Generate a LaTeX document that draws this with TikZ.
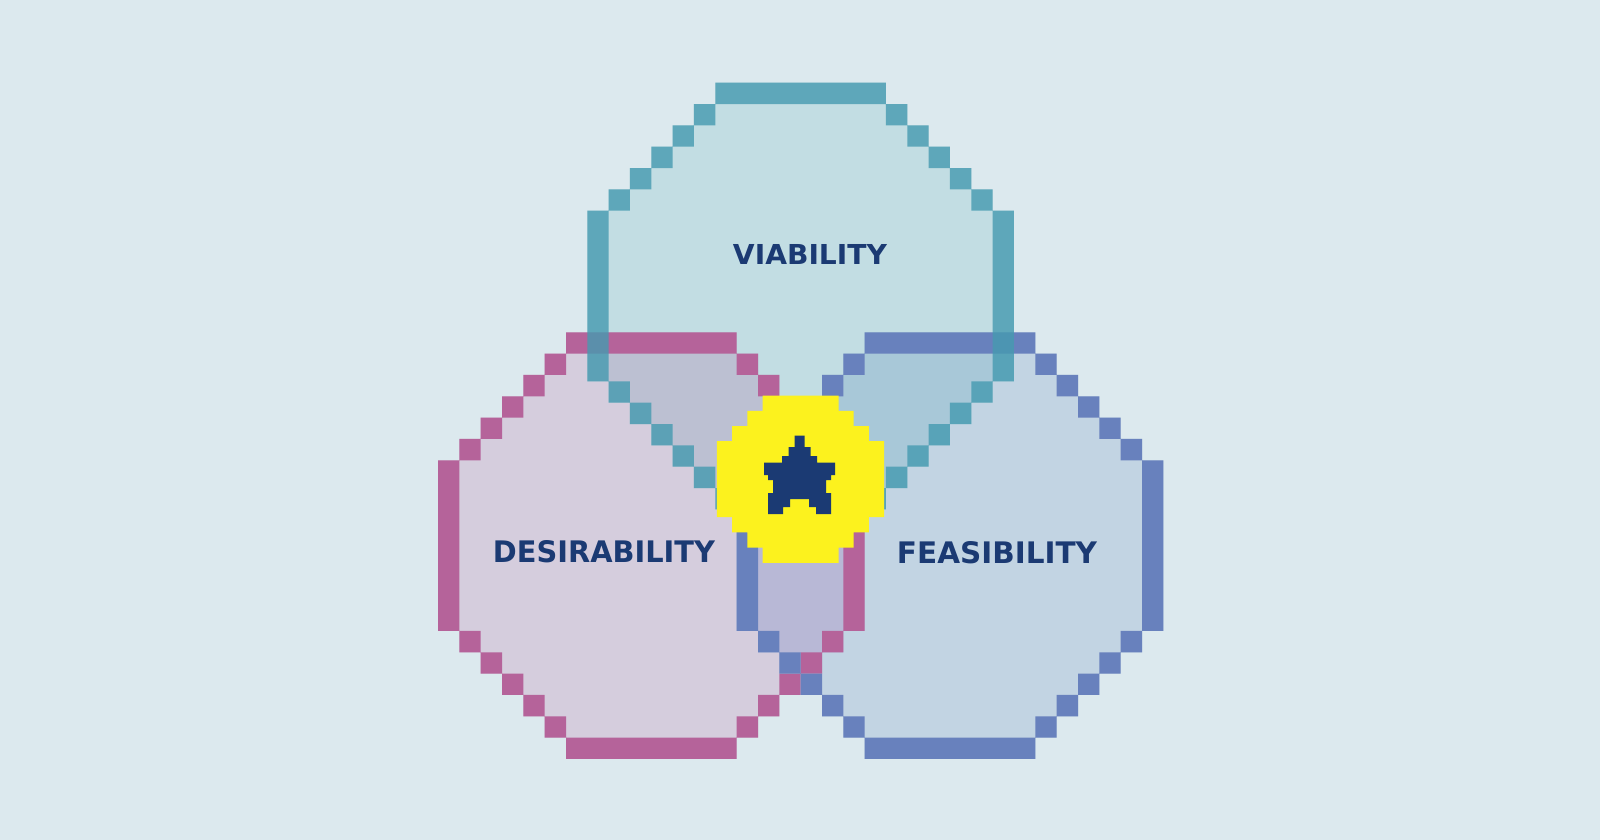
\documentclass[tikz,border=0pt]{standalone}
\usepackage{fontspec}
\setmainfont{DejaVu Sans}
\usepackage{graphicx}

\definecolor{bgcol}{HTML}{DCE9EE}
\definecolor{viafill}{HTML}{C2DDE3}
\definecolor{vialine}{HTML}{459AB0}
\definecolor{desfill}{HTML}{D5CDDD}
\definecolor{desline}{HTML}{B5639A}
\definecolor{feafill}{HTML}{C2D4E3}
\definecolor{fealine}{HTML}{6881BD}
\definecolor{vdfill}{HTML}{BCC0D2}
\definecolor{vffill}{HTML}{A8C8D8}
\definecolor{dffill}{HTML}{B8B8D6}
\definecolor{sunny}{HTML}{FCF21E}
\definecolor{navy}{HTML}{1B3A73}

% staircase octagon, 20 x 20 cells
\newcommand{\octouter}{(6,0) -- (14,0) -- (14,1) -- (15,1) -- (15,2) -- (16,2) -- (16,3) -- (17,3) -- (17,4) -- (18,4) -- (18,5) -- (19,5) -- (19,6) -- (20,6) -- (20,14) -- (19,14) -- (19,15) -- (18,15) -- (18,16) -- (17,16) -- (17,17) -- (16,17) -- (16,18) -- (15,18) -- (15,19) -- (14,19) -- (14,20) -- (6,20) -- (6,19) -- (5,19) -- (5,18) -- (4,18) -- (4,17) -- (3,17) -- (3,16) -- (2,16) -- (2,15) -- (1,15) -- (1,14) -- (0,14) -- (0,6) -- (1,6) -- (1,5) -- (2,5) -- (2,4) -- (3,4) -- (3,3) -- (4,3) -- (4,2) -- (5,2) -- (5,1) -- (6,1) -- cycle}
\newcommand{\octinner}{(6,1) -- (14,1) -- (14,2) -- (15,2) -- (15,3) -- (16,3) -- (16,4) -- (17,4) -- (17,5) -- (18,5) -- (18,6) -- (19,6) -- (19,14) -- (18,14) -- (18,15) -- (17,15) -- (17,16) -- (16,16) -- (16,17) -- (15,17) -- (15,18) -- (14,18) -- (14,19) -- (6,19) -- (6,18) -- (5,18) -- (5,17) -- (4,17) -- (4,16) -- (3,16) -- (3,15) -- (2,15) -- (2,14) -- (1,14) -- (1,6) -- (2,6) -- (2,5) -- (3,5) -- (3,4) -- (4,4) -- (4,3) -- (5,3) -- (5,2) -- (6,2) -- cycle}

\begin{document}
\begin{tikzpicture}[x=0.025cm, y=-0.025cm,
  viagrid/.style={shift={(587.3,82.7)}, scale=21.333},
  desgrid/.style={shift={(438,332.3)}, scale=21.333},
  feagrid/.style={shift={(736.7,332.3)}, scale=21.333},
  ring/.style={even odd rule},
  word/.style={text=navy, inner sep=0pt, font=\bfseries}]

  % Background
  \fill[bgcol] (0,0) rectangle (1600,840);
  \useasboundingbox (0,0) rectangle (1600,840);

  % Fill the three octagons
  \fill[desfill, desgrid] \octouter;
  \fill[feafill, feagrid] \octouter;
  \fill[viafill, viagrid] \octouter;

  % Overlaps
  \begin{scope}
    \clip[viagrid] \octouter;
    \fill[vdfill, desgrid] \octouter;
    \fill[vffill, feagrid] \octouter;
  \end{scope}
  \begin{scope}
    \clip[desgrid] \octouter;
    \fill[dffill, feagrid] \octouter;
  \end{scope}

  % Pixel outlines
  \fill[desline, ring, desgrid] \octouter \octinner;
  \fill[fealine, ring, feagrid] \octouter \octinner;
  \fill[vialine, ring, viagrid, opacity=0.8] \octouter \octinner;

  % Yellow coin
  \begin{scope}[shift={(716.9,395.6)}, scale=15.2]
    \fill[sunny] (3,0) -- (8,0) -- (8,1) -- (9,1) -- (9,2) -- (10,2) -- (10,3) -- (11,3) -- (11,8) -- (10,8) -- (10,9) -- (9,9) -- (9,10) -- (8,10) -- (8,11) -- (3,11) -- (3,10) -- (2,10) -- (2,9) -- (1,9) -- (1,8) -- (0,8) -- (0,3) -- (1,3) -- (1,2) -- (2,2) -- (2,1) -- (3,1) -- cycle;
  \end{scope}

  % Star
  \fill[navy] (794.5,435.5) -- (804.5,435.5) -- (804.5,447) -- (810.5,447) -- (810.5,456) -- (817,456) -- (817,462.5) -- (835,462.5) -- (835,475) -- (831,475) -- (831,480) -- (826,480) -- (826,493) -- (831,493) -- (831,514) -- (816,514) -- (816,507) -- (809,507) -- (809,499) -- (790,499) -- (790,507) -- (783,507) -- (783,514) -- (768,514) -- (768,493) -- (773,493) -- (773,480) -- (768,480) -- (768,475) -- (764,475) -- (764,462.5) -- (782,462.5) -- (782,456) -- (788.5,456) -- (788.5,447) -- (794.5,447) -- cycle;

  % Labels
  \node[word] (via) at (810,254) {\resizebox{3.85cm}{0.5cm}{VIABILITY}};
  \node[word] (des) at (604,552) {\resizebox{5.55cm}{0.55cm}{DESIRABILITY}};
  \node[word] (fea) at (997,553) {\resizebox{5cm}{0.55cm}{FEASIBILITY}};
\end{tikzpicture}
\end{document}
